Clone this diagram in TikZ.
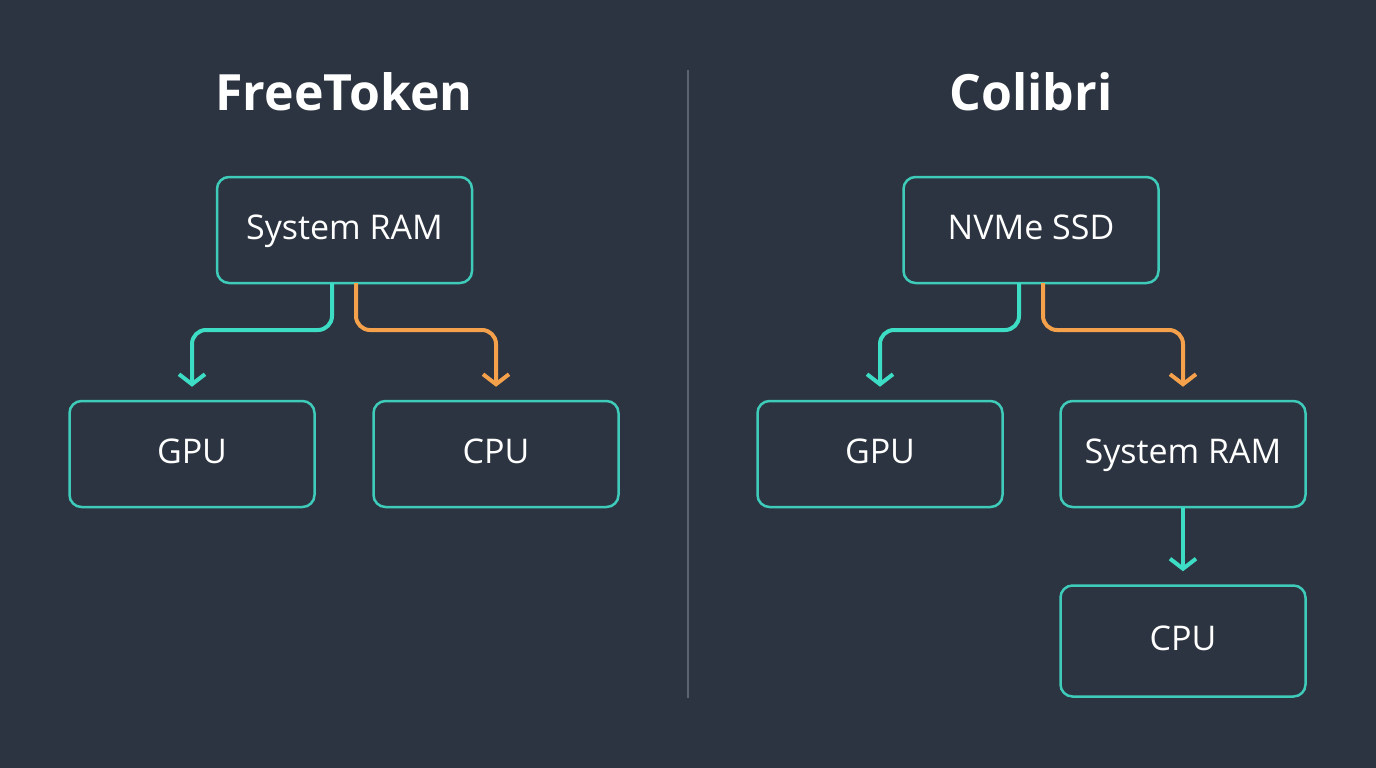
\documentclass[tikz,border=0pt]{standalone}
\usepackage{fontspec}
\setmainfont{Open Sans}
\usetikzlibrary{arrows.meta,positioning}
\definecolor{bg}{HTML}{2B3440}
\definecolor{teal}{HTML}{3FCBB9}
\definecolor{glow}{HTML}{3DDCC4}
\definecolor{amber}{HTML}{F5A04A}
\definecolor{divider}{HTML}{5A6470}
\tikzset{
  box/.style={draw=teal,line width=2.5pt,rounded corners=12pt,minimum width=245pt,minimum height=106pt,
    text=white,text height=24pt,text depth=6pt,font=\fontsize{34}{40}\selectfont},
  title/.style={text=white,font=\bfseries\fontsize{50}{58}\selectfont},
  flow/.style={line width=4pt,rounded corners=14pt,-{Straight Barb[length=10pt,width=26pt,line width=4pt]},shorten >=13pt}
}
\begin{document}
\begin{tikzpicture}[x=1pt,y=-1pt]
  \fill[bg] (0,0) rectangle (1376,768);
  \draw[divider,line width=1.5pt] (688,70) -- (688,698);
  % FreeToken
  \node[title] (ftitle) at (344,92) {FreeToken};
  \node[box,minimum width=255pt] (lram) at (344.5,230) {System RAM};
  \node[box] (lgpu) at (192,454) {GPU};
  \node[box] (lcpu) at (496,454) {CPU};
  \coordinate (la) at (332,283);
  \coordinate (lb) at (356,283);
  \draw[flow,glow] (la) -- ++(0,47) -| (lgpu.north);
  \draw[flow,amber] (lb) -- ++(0,47) -| (lcpu.north);
  % Colibri
  \node[title] (ctitle) at (1031,92) {Colibri};
  \node[box,minimum width=255pt] (ssd) at (1031,230) {NVMe SSD};
  \node[box] (rgpu) at (880,454) {GPU};
  \node[box] (rram) at (1183,454) {System RAM};
  \node[box,minimum height=111pt] (rcpu) at (1183,641) {CPU};
  \coordinate (ra) at (1019,283);
  \coordinate (rb) at (1043,283);
  \draw[flow,glow] (ra) -- ++(0,47) -| (rgpu.north);
  \draw[flow,amber] (rb) -- ++(0,47) -| (rram.north);
  \draw[flow,glow] (rram) -- (rcpu);
\end{tikzpicture}
\end{document}
